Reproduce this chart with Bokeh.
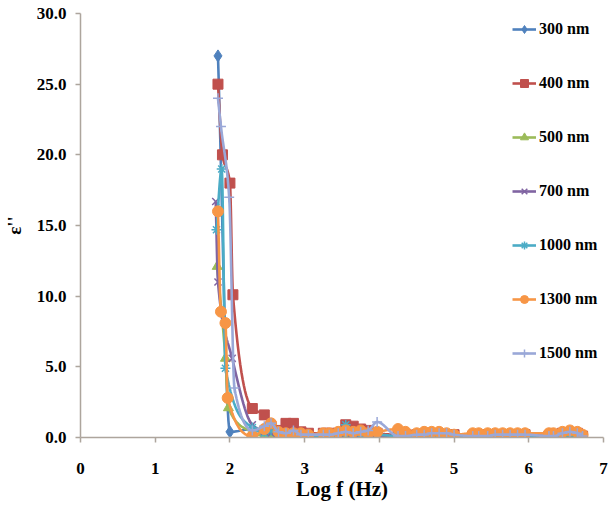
import numpy as np
from bokeh.plotting import figure
from bokeh.models import Legend, LegendItem, FixedTicker, PrintfTickFormatter
from bokeh.embed import file_html
from bokeh.resources import INLINE

# ---------------- data ----------------
SERIES = ["300 nm", "400 nm", "500 nm", "700 nm", "1000 nm", "1300 nm", "1500 nm"]
COLORS = ["#4F81BD", "#C0504D", "#9BBB59", "#8064A2", "#4BACC6", "#F79646", "#9AA8D8"]
MARKERS = ["diamond", "square", "triangle", "x", "asterisk", "circle", "cross"]

# low-frequency part of every curve (log f, eps'')
X_HEAD_300 = [1.84, 2.00]
Y_HEAD_300 = [27.0, 0.4]
X_HEAD_400 = [1.84, 1.90, 2.00, 2.04]
Y_HEAD_400 = [25.0, 20.0, 18.0, 10.1]
X_HEAD_500 = [1.83, 1.94, 1.98]
Y_HEAD_500 = [12.1, 5.6, 2.1]
X_HEAD_700 = [1.81, 1.84, 2.03]
Y_HEAD_700 = [16.7, 11.0, 5.6]
X_HEAD_1000 = [1.82, 1.89, 1.94]
Y_HEAD_1000 = [14.7, 19.0, 4.9]
X_HEAD_1300 = [1.84, 1.88, 1.94, 1.97]
Y_HEAD_1300 = [16.0, 8.9, 8.1, 2.8]
X_HEAD_1500 = [1.84, 1.88, 1.99, 2.06]
Y_HEAD_1500 = [24.0, 22.0, 17.0, 3.5]

# high-frequency part, shared log f values
X_TAIL = [2.30, 2.46, 2.55, 2.65, 2.75, 2.85, 2.95, 3.05, 3.25, 3.33, 3.45, 3.55,
          3.65, 3.75, 3.85, 3.97, 4.25, 4.35, 4.50, 4.60, 4.70, 4.80, 4.90, 5.00,
          5.25, 5.33, 5.45, 5.55, 5.65, 5.75, 5.85, 5.95, 6.27, 6.33, 6.45, 6.55,
          6.65, 6.72]
Y_TAIL_300 = [0.6, 0.3, 0.2, 0.1, 0.1, 0.1, 0.1, 0.1, 0.1, 0.1, 0.1, 0.2,
              0.1, 0.1, 0.1, 0.1, 0.1, 0.1, 0.1, 0.1, 0.1, 0.1, 0.1, 0.1,
              0.1, 0.1, 0.1, 0.1, 0.1, 0.1, 0.1, 0.1, 0.1, 0.1, 0.2, 0.2,
              0.2, 0.1]
Y_TAIL_400 = [2.05, 1.6, 0.8, 0.5, 1.0, 1.0, 0.4, 0.3, 0.3, 0.3, 0.3, 0.9,
              0.8, 0.6, 0.5, 0.3, 0.2, 0.2, 0.2, 0.2, 0.2, 0.2, 0.2, 0.2,
              0.1, 0.1, 0.2, 0.2, 0.2, 0.2, 0.2, 0.2, 0.1, 0.1, 0.3, 0.3,
              0.3, 0.1]
Y_TAIL_500 = [0.4, 0.1, 0.1, 0.1, 0.0, 0.0, 0.0, 0.0, 0.0, 0.0, 0.0, 0.1,
              0.0, 0.0, 0.0, 0.0, 0.0, 0.0, 0.0, 0.0, 0.0, 0.0, 0.0, 0.0,
              0.0, 0.0, 0.0, 0.0, 0.0, 0.0, 0.0, 0.0, 0.0, 0.0, 0.1, 0.1,
              0.1, 0.0]
Y_TAIL_700 = [0.9, 0.4, 0.3, 0.2, 0.2, 0.1, 0.1, 0.1, 0.1, 0.1, 0.1, 0.3,
              0.2, 0.1, 0.1, 0.1, 0.1, 0.1, 0.1, 0.1, 0.1, 0.1, 0.1, 0.1,
              0.1, 0.1, 0.1, 0.1, 0.1, 0.1, 0.1, 0.1, 0.1, 0.1, 0.2, 0.2,
              0.2, 0.1]
Y_TAIL_1000 = [0.7, 0.3, 0.5, 0.2, 0.3, 0.2, 0.1, 0.1, 0.1, 0.1, 0.2, 0.9,
               0.4, 0.2, 0.2, 0.2, 0.1, 0.1, 0.1, 0.1, 0.1, 0.1, 0.1, 0.1,
               0.1, 0.1, 0.1, 0.1, 0.1, 0.1, 0.1, 0.1, 0.1, 0.1, 0.2, 0.2,
               0.2, 0.1]
Y_TAIL_1300 = [0.1, 0.6, 1.0, 0.4, 0.3, 0.3, 0.3, 0.2, 0.3, 0.3, 0.4, 0.5,
               0.4, 0.5, 0.3, 0.4, 0.6, 0.4, 0.3, 0.4, 0.4, 0.4, 0.3, 0.2,
               0.3, 0.3, 0.3, 0.3, 0.3, 0.3, 0.3, 0.3, 0.3, 0.3, 0.4, 0.5,
               0.4, 0.2]
Y_TAIL_1500 = [0.5, 0.8, 1.0, 0.4, 0.3, 0.5, 0.2, 0.2, 0.2, 0.2, 0.3, 0.4,
               0.3, 0.4, 0.5, 1.1, 0.1, 0.1, 0.2, 0.2, 0.3, 0.3, 0.3, 0.2,
               0.1, 0.1, 0.1, 0.2, 0.2, 0.2, 0.2, 0.2, 0.1, 0.1, 0.3, 0.4,
               0.3, 0.1]

X_TICKS = [0, 1, 2, 3, 4, 5, 6, 7]
Y_TICKS = [0, 5, 10, 15, 20, 25, 30]

HEADS = [(X_HEAD_300, Y_HEAD_300), (X_HEAD_400, Y_HEAD_400), (X_HEAD_500, Y_HEAD_500),
         (X_HEAD_700, Y_HEAD_700), (X_HEAD_1000, Y_HEAD_1000), (X_HEAD_1300, Y_HEAD_1300),
         (X_HEAD_1500, Y_HEAD_1500)]
TAILS = [Y_TAIL_300, Y_TAIL_400, Y_TAIL_500, Y_TAIL_700, Y_TAIL_1000, Y_TAIL_1300, Y_TAIL_1500]


def pchip(x, y, n=16):
    """Monotone cubic (smoothed line like the spreadsheet's smoothing)."""
    x = np.asarray(x, float)
    y = np.asarray(y, float)
    h = np.diff(x)
    d = np.diff(y) / h
    m = np.zeros_like(y)
    m[0], m[-1] = d[0], d[-1]
    for k in range(1, len(x) - 1):
        if d[k - 1] * d[k] <= 0:
            m[k] = 0.0
        else:
            w1 = 2 * h[k] + h[k - 1]
            w2 = h[k] + 2 * h[k - 1]
            m[k] = (w1 + w2) / (w1 / d[k - 1] + w2 / d[k])
    xs, ys = [], []
    for k in range(len(x) - 1):
        t = np.linspace(0, 1, n, endpoint=False)
        h00 = 2 * t**3 - 3 * t**2 + 1
        h10 = t**3 - 2 * t**2 + t
        h01 = -2 * t**3 + 3 * t**2
        h11 = t**3 - t**2
        xs.extend(x[k] + t * h[k])
        ys.extend(h00 * y[k] + h10 * h[k] * m[k] + h01 * y[k + 1] + h11 * h[k] * m[k + 1])
    xs.append(x[-1])
    ys.append(y[-1])
    return xs, ys


# ---------------- figure ----------------
p = figure(width=608, height=508, x_range=(0, 7), y_range=(0, 30),
           output_backend="svg", toolbar_location=None,
           min_border_left=76, min_border_right=5, min_border_top=13, min_border_bottom=71)
p.outline_line_color = None
p.grid.visible = False
p.background_fill_color = "white"

AX = "#ADA59D"
FONT = "Liberation Serif"
for ax in (p.xaxis[0], p.yaxis[0]):
    ax.axis_line_color = AX
    ax.axis_line_width = 1.5
    ax.major_tick_line_color = AX
    ax.major_tick_line_width = 1.5
    ax.major_tick_out = 5
    ax.major_tick_in = 0
    ax.minor_tick_line_color = None
    ax.major_label_text_font = FONT
    ax.major_label_text_font_style = "bold"
    ax.major_label_text_font_size = "17px"
    ax.major_label_text_color = "black"
    ax.axis_label_text_font = FONT
    ax.axis_label_text_font_style = "bold"
    ax.axis_label_text_color = "black"

p.xaxis.ticker = FixedTicker(ticks=X_TICKS)
p.yaxis.ticker = FixedTicker(ticks=Y_TICKS)
p.yaxis.formatter = PrintfTickFormatter(format="%.1f")
p.xaxis.formatter = PrintfTickFormatter(format="%d")
p.xaxis.major_label_standoff = 20
p.yaxis.major_label_standoff = 9
p.xaxis.axis_label = "Log f (Hz)"
p.xaxis.axis_label_text_font_size = "21px"
p.xaxis.axis_label_standoff = 0
p.yaxis.axis_label = "ε''"
p.yaxis.axis_label_text_font_size = "19px"
p.yaxis.axis_label_standoff = 9

items = []
for name, col, mk, (xh, yh), yt in zip(SERIES, COLORS, MARKERS, HEADS, TAILS):
    xd = list(xh) + list(X_TAIL)
    yd = list(yh) + list(yt)
    xs, ys = pchip(xd, yd)
    lr = p.line(xs, ys, line_color=col, line_width=2.6)
    if mk in ("x", "asterisk", "cross"):
        sr = p.scatter(xd, yd, marker=mk, size=10, line_color=col, line_width=1.5,
                       fill_color=None)
    else:
        size = {"diamond": 12, "square": 10, "triangle": 10, "circle": 11}[mk]
        sr = p.scatter(xd, yd, marker=mk, size=size, line_color=col, fill_color=col)
    items.append(LegendItem(label=name, renderers=[lr, sr]))

# legend: (x, y) = bottom-left corner, screen px from the frame's bottom-left
legend = Legend(items=items, location=(432, 74),
                border_line_color=None, background_fill_alpha=0,
                padding=0, margin=0, spacing=34,
                label_height=20, glyph_height=20, glyph_width=24, label_standoff=3,
                label_text_font=FONT, label_text_font_style="bold",
                label_text_font_size="16px", label_text_color="black")
p.add_layout(legend)

open("out.html", "w").write(file_html(p, INLINE))
